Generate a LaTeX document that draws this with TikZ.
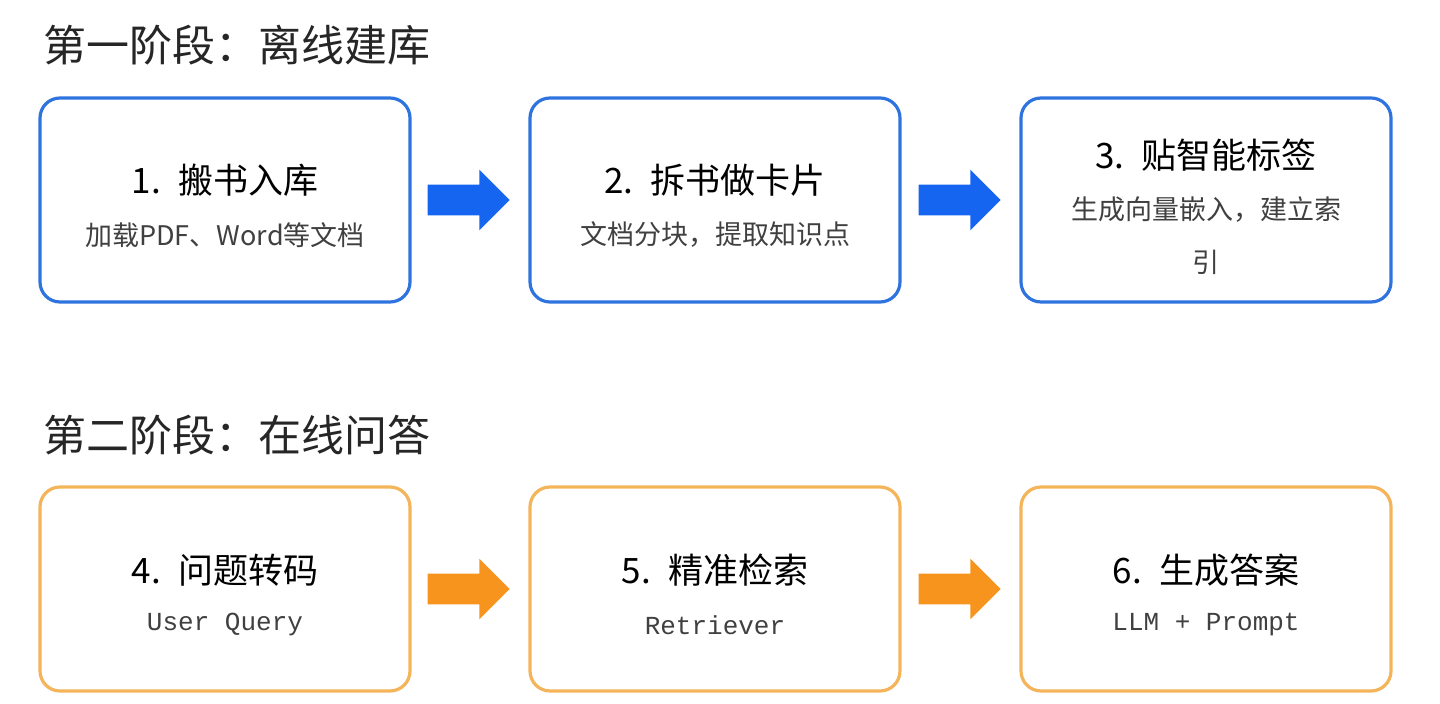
\documentclass[tikz,border=0pt]{standalone}
\usepackage{fontspec}
\setmainfont{Liberation Serif}
\newfontfamily\cjk{Noto Sans CJK SC}
\newfontfamily\mono{Liberation Mono}
\usetikzlibrary{shapes.arrows}
\definecolor{bb}{HTML}{2F74DE}
\definecolor{ba}{HTML}{1565F0}
\definecolor{ob}{HTML}{F4B45A}
\definecolor{oa}{HTML}{F7941D}
\begin{document}
\begin{tikzpicture}[x=0.5pt,y=-0.5pt,
  box/.style={draw=#1,line width=1.6pt,rounded corners=10pt,minimum width=185pt,minimum height=102pt,fill=white},
  ttl/.style={font=\fontsize{17.5}{20}\selectfont\cjk},
  sub/.style={font=\fontsize{13.5}{16}\selectfont\cjk,text=black!75},
  msub/.style={font=\fontsize{13}{16}\selectfont\mono,text=black!75},
  head/.style={anchor=west,font=\fontsize{21.5}{24}\selectfont\cjk,text=black!85},
  arr/.style={single arrow,draw=none,fill=#1,minimum height=41pt,minimum width=30pt,single arrow head extend=7.5pt,inner xsep=0pt,inner ysep=7.5pt,text height=0pt,text depth=0pt,single arrow tip angle=90}]
\useasboundingbox (0,0) rectangle (1440,704);
\node[head] (h1) at (36,45) {第一阶段：离线建库};
\node[head] (h2) at (36,435) {第二阶段：在线问答};
\node[box=bb] (b1) at (225,200) {};
\node[box=bb] (b2) at (715,200) {};
\node[box=bb] (b3) at (1206,200) {};
\node[box=ob] (b4) at (225,589) {};
\node[box=ob] (b5) at (715,589) {};
\node[box=ob] (b6) at (1206,589) {};
\node[arr=ba] (a1) at (461,200) {};
\node[arr=ba] (a2) at (952,200) {};
\node[arr=oa] (a3) at (461,589) {};
\node[arr=oa] (a4) at (952,589) {};
\node[ttl] (t1) at (225,180) {1.\enspace 搬书入库};
\node[sub] (s1) at (225,235) {加载PDF、Word等文档};
\node[ttl] (t2) at (715,180) {2.\enspace 拆书做卡片};
\node[sub] (s2) at (715,235) {文档分块，提取知识点};
\node[ttl] (t3) at (1206,155) {3.\enspace 贴智能标签};
\node[sub] (s3) at (1206,210) {生成向量嵌入，建立索};
\node[sub] (s3b) at (1206,262) {引};
\node[ttl] (t4) at (225,570) {4.\enspace 问题转码};
\node[msub] (s4) at (225,625) {User Query};
\node[ttl] (t5) at (715,570) {5.\enspace 精准检索};
\node[msub] (s5) at (715,625) {Retriever};
\node[ttl] (t6) at (1206,570) {6.\enspace 生成答案};
\node[msub] (s6) at (1206,625) {LLM + Prompt};
\end{tikzpicture}
\end{document}
